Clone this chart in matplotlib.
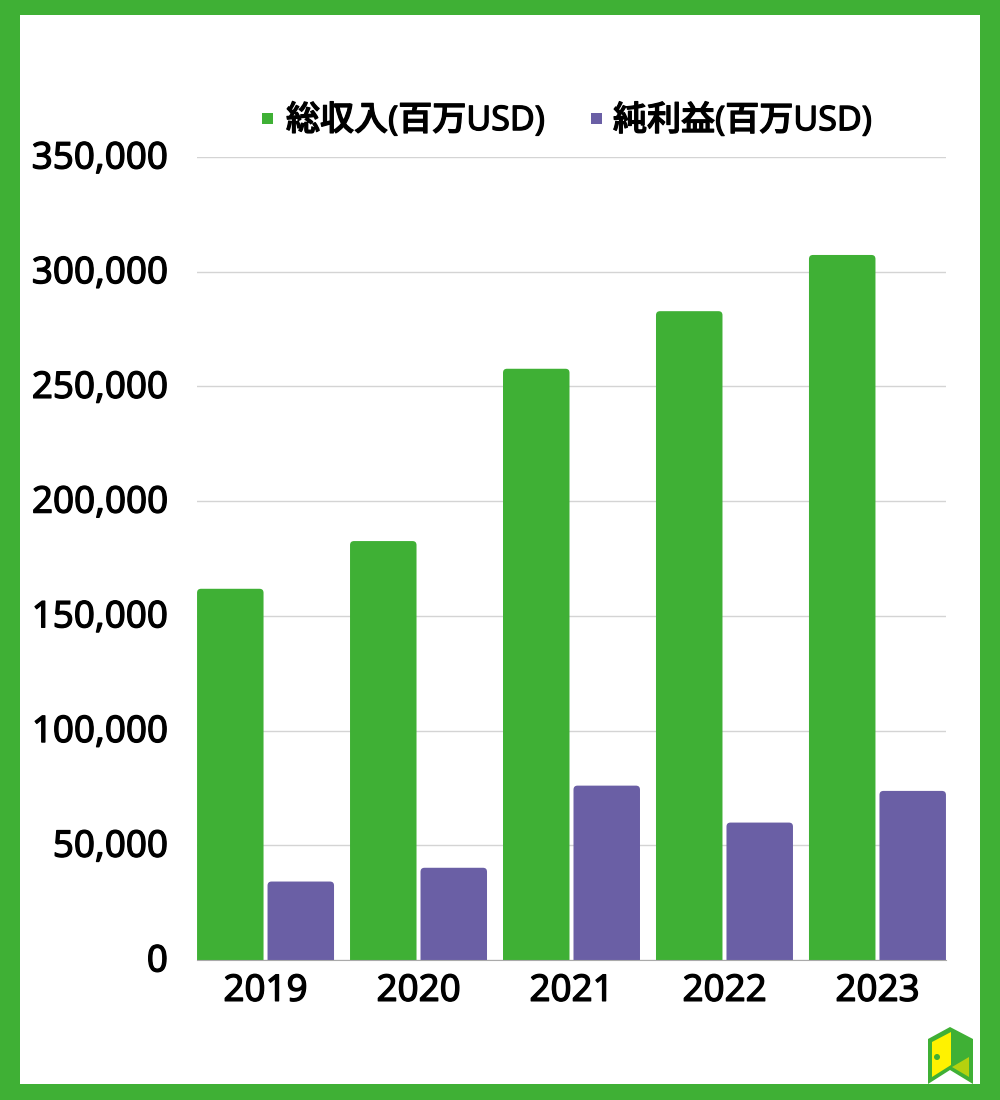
import matplotlib
matplotlib.use("Agg")
import matplotlib.pyplot as plt
import matplotlib.patheffects as pe
from matplotlib.patches import FancyBboxPatch, Polygon, Rectangle, Ellipse
from matplotlib.ticker import FuncFormatter
from matplotlib.transforms import ScaledTranslation

plt.rcParams['font.family'] = ['Noto Sans', 'Noto Sans CJK JP', 'DejaVu Sans']

years = ["2019", "2020", "2021", "2022", "2023"]
revenue = [161800, 182600, 257700, 282800, 307300]
net_income = [34200, 40200, 76000, 59900, 73700]
legend_labels = ["総収入(百万USD)", "純利益(百万USD)"]
y_ticks = [0, 50000, 100000, 150000, 200000, 250000, 300000, 350000]

GREEN = "#3fb035"
PURPLE = "#6a5fa5"
FIG_W, FIG_H = 1000, 1100

# Noto Sans only comes in regular here, a thin stroke gives the heavier look
HEAVY = [pe.withStroke(linewidth=0.9, foreground="black")]


def px(x, y):
    # pixel position from top left -> figure fraction
    return (x / FIG_W, 1 - y / FIG_H)


def add_poly(fig, points, color):
    fig.add_artist(Polygon([px(x, y) for x, y in points], closed=True, facecolor=color,
                           edgecolor="none", transform=fig.transFigure))


fig = plt.figure(figsize=(10, 11), dpi=100)

# plot area, 197-946 wide and 157-960 high in pixels
ax = fig.add_axes([0.197, 1 - 960 / FIG_H, 0.749, 803 / FIG_H])
ax.set_xlim(-0.448, 4.448)
ax.set_ylim(0, 350000)

# rounding of the bar tops, 4 px in data units
x_per_px = 1 / 153
y_per_px = 350000 / 803
bar_width = 66.5 * x_per_px
offset = 35.25 * x_per_px
sink = 20000  # bottoms go under the axis so only the top corners look round


def rounded_bar(ax, x, value, color):
    patch = FancyBboxPatch((x - bar_width / 2, -sink), bar_width, value + sink,
                           boxstyle=f"round,pad=0,rounding_size={4 * x_per_px}",
                           mutation_aspect=y_per_px / x_per_px,
                           facecolor=color, edgecolor="none", zorder=3)
    ax.add_patch(patch)


for i in range(len(years)):
    rounded_bar(ax, i - offset, revenue[i], GREEN)
    rounded_bar(ax, i + offset, net_income[i], PURPLE)

ax.set_xticks(range(len(years)))
ax.set_xticklabels(years)
ax.set_yticks(y_ticks)
ax.yaxis.set_major_formatter(FuncFormatter(lambda v, pos: f"{int(v):,}"))
ax.tick_params(axis="both", length=0, labelsize=26.5, labelcolor="black")
ax.tick_params(axis="x", pad=10)
ax.tick_params(axis="y", pad=21)
for label in ax.get_xticklabels() + ax.get_yticklabels():
    label.set_path_effects(HEAVY)

# y labels sit 2 px higher than matplotlib centres them
shift_up = ScaledTranslation(0, 2 / 100, fig.dpi_scale_trans)
for label in ax.get_yticklabels():
    label.set_transform(label.get_transform() + shift_up)

ax.grid(axis="y", color="#d4d4d4", linewidth=1, zorder=0)
ax.set_axisbelow(True)
for side in ["top", "right", "left"]:
    ax.spines[side].set_visible(False)
ax.spines["bottom"].set_color("#aaaaaa")
ax.spines["bottom"].set_zorder(4)

# legend by hand, the markers are small squares
for x0, text_x, color, label in zip([262, 591], [286, 613], [GREEN, PURPLE], legend_labels):
    fig.add_artist(Rectangle(px(x0, 124), 11 / FIG_W, 11 / FIG_H, facecolor=color,
                             edgecolor="none", transform=fig.transFigure))
    tx, ty = px(text_x, 121)
    fig.text(tx, ty, label, fontsize=24.5, fontweight="medium", va="center", ha="left",
             color="black", path_effects=HEAVY)

# green frame
for x, y, w, h in [(0, 0, 1000, 15), (0, 1084, 1000, 16), (0, 0, 20, 1100), (980, 0, 20, 1100)]:
    fig.add_artist(Rectangle(px(x, y + h), w / FIG_W, h / FIG_H, facecolor=GREEN,
                             edgecolor="none", transform=fig.transFigure))

# door logo
add_poly(fig, [(928, 1039), (950, 1027), (973, 1039), (973, 1084), (950, 1070), (928, 1084)], GREEN)
add_poly(fig, [(932, 1042), (951, 1032), (951, 1065), (932, 1077)], "#fff200")
add_poly(fig, [(952, 1067), (969, 1057), (969, 1077)], "#b5d10f")
kx, ky = px(937, 1057)
fig.add_artist(Ellipse((kx, ky), 6 / FIG_W, 6 / FIG_H, facecolor=GREEN,
                       edgecolor="none", transform=fig.transFigure))

fig.savefig("out.png", dpi=100)
